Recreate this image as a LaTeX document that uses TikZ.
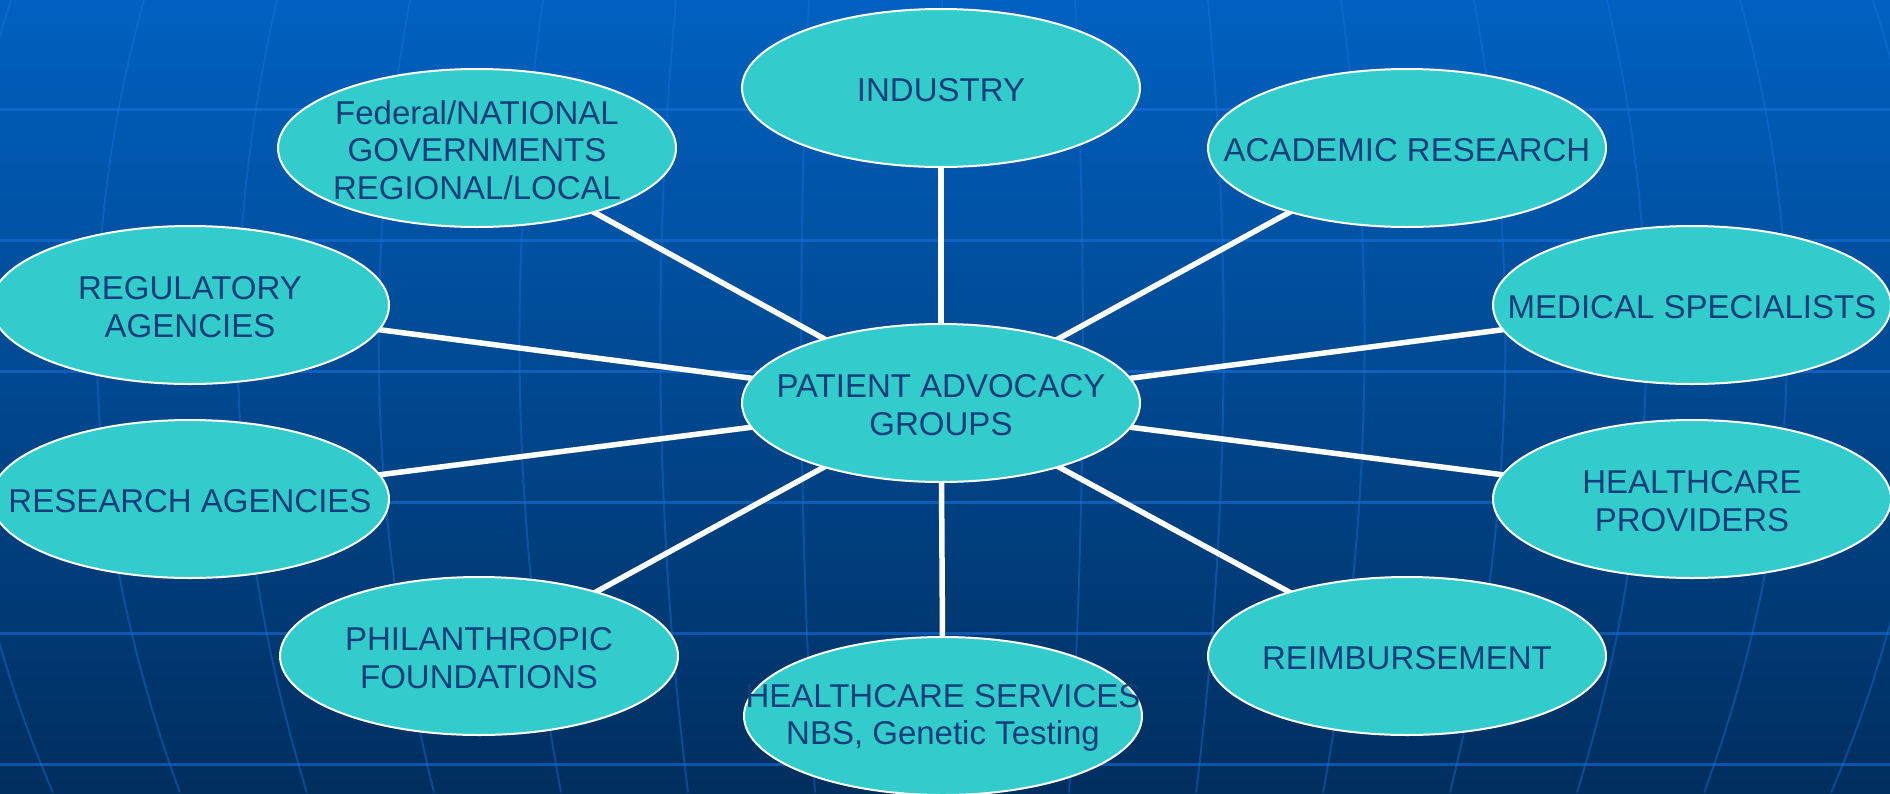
\documentclass[tikz,border=0pt]{standalone}
\usepackage{fontspec}
\setmainfont{Liberation Sans}
\usetikzlibrary{shapes.geometric}
\definecolor{bgtop}{RGB}{0,97,192}
\definecolor{bgmid}{RGB}{0,72,148}
\definecolor{bgbot}{RGB}{0,46,94}
\definecolor{gridc}{RGB}{25,115,225}
\definecolor{bubblefill}{RGB}{51,204,204}
\definecolor{txtc}{RGB}{20,62,122}
\pgfdeclarelayer{back}
\pgfsetlayers{back,main}
\begin{document}
\begin{tikzpicture}[x=1pt,y=-1pt,
  bubble/.style={ellipse, fill=bubblefill, draw=white, line width=2pt,
    minimum width=398pt, minimum height=158pt, inner sep=0pt},
  txt/.style={text=txtc, font=\fontsize{33}{37.5}\selectfont, align=center, inner sep=0pt, yshift=-2pt},
  link/.style={draw=white, line width=5.5pt},
  hgrid/.style={draw=gridc, line width=3pt, opacity=0.55},
  vgrid/.style={draw=gridc, line width=2pt, opacity=0.4}]
\useasboundingbox (0,0) rectangle (1890,793);
\begin{pgfonlayer}{back}
  \clip (0,0) rectangle (1890,793);
  \shade[top color=bgtop, middle color=bgmid, bottom color=bgbot] (0,0) rectangle (1890,793);
  \foreach \yy in {109,240,371,502,633,764}
    \draw[hgrid] (0,\yy) -- (1890,\yy);
  \foreach \k in {-7,...,7}
    \draw[vgrid] plot[domain=0:1, samples=30, variable=\t]
      ({942+133*\k - 6*\k*\t + 42.56*\k*\t*(1-\t)}, {793*\t});
\end{pgfonlayer}
\begin{scope}
  \clip (0,0) rectangle (1890,793);
  \node[bubble] (ind)   at (941,88)   {};
  \node[bubble] (fed)   at (477,148)  {};
  \node[bubble] (acad)  at (1407,148) {};
  \node[bubble] (reg)   at (190,305)  {};
  \node[bubble] (med)   at (1692,305) {};
  \node[bubble] (pat)   at (941,403)  {};
  \node[bubble] (resag) at (190,499)  {};
  \node[bubble] (hcp)   at (1692,499) {};
  \node[bubble] (phil)  at (479,656)  {};
  \node[bubble] (reimb) at (1407,656) {};
  \node[bubble] (hcs)   at (943,716)  {};
  \node[txt] (indT)   at (ind)   {INDUSTRY};
  \node[txt] (fedT)   at (fed)   {Federal/NATIONAL\\GOVERNMENTS\\REGIONAL/LOCAL};
  \node[txt] (acadT)  at (acad)  {ACADEMIC RESEARCH};
  \node[txt] (regT)   at (reg)   {REGULATORY\\AGENCIES};
  \node[txt] (medT)   at (med)   {MEDICAL SPECIALISTS};
  \node[txt] (patT)   at (pat)   {PATIENT ADVOCACY\\GROUPS};
  \node[txt] (resagT) at (resag) {RESEARCH AGENCIES};
  \node[txt] (hcpT)   at (hcp)   {HEALTHCARE\\PROVIDERS};
  \node[txt] (philT)  at (phil)  {PHILANTHROPIC\\FOUNDATIONS};
  \node[txt] (reimbT) at (reimb) {REIMBURSEMENT};
  \node[txt] (hcsT)   at (hcs)   {HEALTHCARE SERVICES\\NBS, Genetic Testing};
\end{scope}
\begin{pgfonlayer}{back}
  \foreach \n in {ind,fed,acad,reg,med,resag,hcp,phil,reimb,hcs}
    \draw[link] (pat.center) -- (\n.center);
\end{pgfonlayer}
\end{tikzpicture}
\end{document}
